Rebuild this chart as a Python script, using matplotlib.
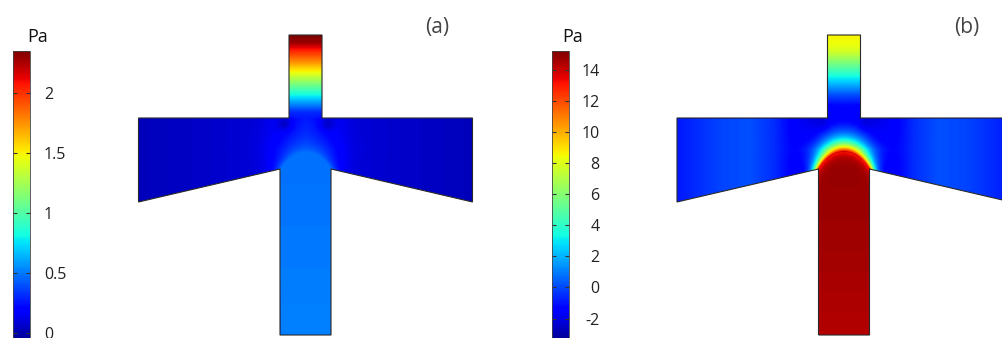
import numpy as np
import matplotlib
matplotlib.use("Agg")
import matplotlib.pyplot as plt
from matplotlib.patches import Polygon
from matplotlib.colors import Normalize
from matplotlib.cm import ScalarMappable

plt.rcParams['font.family'] = ['Open Sans', 'DejaVu Sans']

W, H = 1003, 338

# Channel outline (um): x from the channel axis, y up from the outlet
wall_x = [-25.5, -25.5, -167, -167, -16.5, -16.5, 16.5, 16.5, 167, 167, 25.5, 25.5]
wall_y = [0, 166, 133, 217, 217, 300, 300, 217, 217, 133, 166, 0]

# (a) pressure readings, Pa
a_top_y = [217, 223, 230, 240, 251, 263, 273, 285, 293, 300]
a_top_p = [0.24, 0.3, 0.51, 0.81, 1.12, 1.47, 1.75, 2.05, 2.3, 2.35]
a_arm_dx = [0, 25, 50, 100, 167]
a_arm_p = [0.25, 0.16, 0.09, 0.06, 0.03]
a_bot_y = [0, 80, 166]
a_bot_p = [0.52, 0.5, 0.48]
a_range = (-0.1, 2.35)
a_ticks = [0, 0.5, 1, 1.5, 2]
a_labels = ['0', '0.5', '1', '1.5', '2']

# (b) pressure readings, Pa
b_top_y = [217, 230, 240, 250, 259, 267, 275, 283, 290, 300]
b_top_p = [-2.3, -1.5, 0.0, 1.8, 3.4, 4.8, 6.2, 7.6, 8.3, 8.6]
b_arm_dx = [0, 30, 50, 70, 95, 125, 167]
b_arm_p = [-2.5, -2.3, -1.6, -0.5, 0.15, -0.1, -0.9]
b_bot_y = [0, 80, 166]
b_bot_p = [14.3, 14.6, 14.8]
b_range = (-3.7, 15.2)
b_ticks = [-2, 0, 2, 4, 6, 8, 10, 12, 14]
b_labels = ['-2', '0', '2', '4', '6', '8', '10', '12', '14']

xs = np.arange(-170, 170.5, 0.5)
ys = np.arange(-3, 303.5, 0.5)
X, Y = np.meshgrid(xs, ys)


def pressure(top_y, top_p, arm_dx, arm_p, bot_y, bot_p, decay, ring, dip):
    p = np.interp(np.abs(X), arm_dx, arm_p)
    p = np.where(Y >= 217, np.interp(Y, top_y, top_p), p)
    # low-pressure spots under the corners of the upper branch
    for sx in (-21, 21):
        p += dip * np.exp(-((X - sx) ** 2 + (Y - 211) ** 2) / (2 * 5 ** 2))
    # pressure front pushed up from the lower branch
    r = np.hypot(X / 39.7, (Y - 110) / 73)
    core = np.interp(Y, bot_y, bot_p)
    inside = (r < 1) | ((Y < 166) & (np.abs(X) <= 25.5))
    t = np.clip((r - 1) * 73, 0, None)
    # the front spreads further upward than sideways
    reach = decay * (0.7 + 0.6 * np.clip((Y - 166) / 20, 0, 1))
    outside = p + (core - p) * np.exp(-t / reach)
    depth = np.clip((1 - r) * 73, 0, None)
    inner = core - ring * np.exp(-depth / 4) * (Y > 110)
    return np.where(inside, inner, outside)


def draw_panel(cx, xlim, field, rng, tag, tag_x):
    ax = fig.add_axes([(cx + xlim[0]) / W, 0, (xlim[1] - xlim[0]) / W, 306 / H])
    ax.set_xlim(*xlim)
    ax.set_ylim(-3, 303)
    ax.axis('off')
    im = ax.imshow(field, origin='lower', extent=(xs[0], xs[-1], ys[0], ys[-1]),
                   cmap='jet', norm=Normalize(*rng), interpolation='bilinear')
    outline = Polygon(np.column_stack([wall_x, wall_y]), closed=True,
                      fill=False, ec='#2a2a2a', lw=0.8)
    ax.add_patch(outline)
    im.set_clip_path(outline)
    fig.text(tag_x / W, 1 - 27 / H, tag, ha='center', va='center',
             fontsize=15, color='#444444')


def draw_colorbar(x0, rng, ticks, labels, pad, right_align, pa_x):
    cax = fig.add_axes([x0 / W, -7 / H, 17 / W, 294 / H])
    cb = fig.colorbar(ScalarMappable(norm=Normalize(*rng), cmap='jet'), cax=cax)
    cb.outline.set_linewidth(0.6)
    cb.outline.set_edgecolor('#444444')
    cb.set_ticks(ticks)
    cb.set_ticklabels(labels)
    cax.tick_params(direction='in', length=3, width=0.8, color='#333333',
                    left=True, right=True, labelleft=False, labelright=True,
                    labelsize=11.5, labelcolor='#222222', pad=pad)
    if right_align:
        for lab in cax.get_yticklabels():
            lab.set_ha('right')
    fig.text(pa_x / W, 1 - 37 / H, 'Pa', ha='left', va='center',
             fontsize=13, color='#111111')


fig = plt.figure(figsize=(W / 100, H / 100), dpi=100)

pa = pressure(a_top_y, a_top_p, a_arm_dx, a_arm_p, a_bot_y, a_bot_p,
              decay=11, ring=0.0, dip=-0.15)
pb = pressure(b_top_y, b_top_p, b_arm_dx, b_arm_p, b_bot_y, b_bot_p,
              decay=9, ring=2.0, dip=-0.5)

draw_panel(305.5, (-170, 170), pa, a_range, '(a)', 437)
draw_panel(844, (-170, 159), pb, b_range, '(b)', 967)

draw_colorbar(13, a_range, a_ticks, a_labels, 10, False, 27)
draw_colorbar(552, b_range, b_ticks, b_labels, 22, True, 562)

fig.savefig('out.png', dpi=100, facecolor='white')
